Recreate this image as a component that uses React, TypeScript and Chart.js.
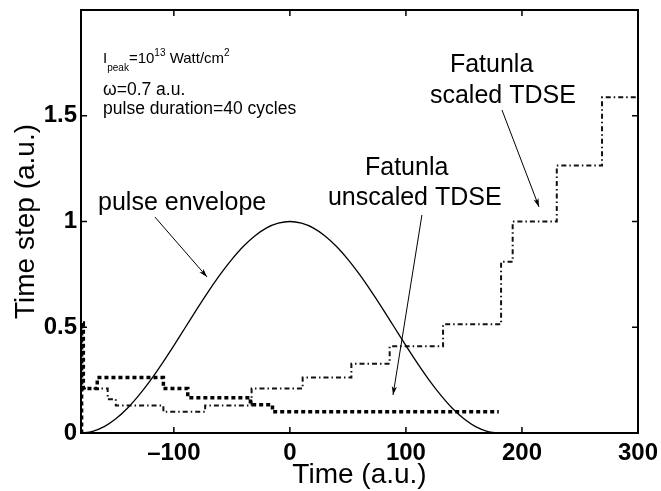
import React, { useEffect, useRef } from 'react';
import { Chart, registerables } from 'chart.js';

Chart.register(...registerables);

const FONT = '"Liberation Sans", Arial, Helvetica, sans-serif';

// Axis ranges and ticks
const xRange = [-180, 300];
const yRange = [0, 2];
const xTicks = [-100, 0, 100, 200, 300];
const yTicks = [0, 0.5, 1, 1.5];

// Pulse envelope
const envelopeT = [-180, -170, -160, -150, -140, -130, -120, -110, -100, -90, -80, -70, -60, -50, -40, -30, -20, -10, 0, 10, 20, 30, 40, 50, 60, 70, 80, 90, 100, 110, 120, 130, 140, 150, 160, 170, 180];
const envelopeV = [0, 0.008, 0.03, 0.067, 0.117, 0.179, 0.25, 0.329, 0.413, 0.5, 0.587, 0.671, 0.75, 0.821, 0.883, 0.933, 0.97, 0.992, 1, 0.992, 0.97, 0.933, 0.883, 0.821, 0.75, 0.671, 0.587, 0.5, 0.413, 0.329, 0.25, 0.179, 0.117, 0.067, 0.03, 0.008, 0];

// Fatunla unscaled TDSE (step function: value holds until next time)
const unscaledT = [-180, -179.5, -178, -166, -109, -88, -34, -15, 180];
const unscaledV = [0, 0.52, 0.21, 0.262, 0.21, 0.167, 0.133, 0.1, 0.1];

// Fatunla scaled TDSE (step function: value holds until next time)
const scaledT = [-180, -157, -150, -109, -73, -33, 11, 53, 86, 132, 182, 192, 230, 269, 300];
const scaledV = [0.21, 0.16, 0.13, 0.1, 0.13, 0.21, 0.262, 0.328, 0.41, 0.514, 0.81, 1.0, 1.265, 1.587, 1.587];

// Annotation texts (data coordinates: left x, baseline y)
const bigLabels = [
  { text: 'pulse envelope', t: -165.3, y: 1.054 },
  { text: 'Fatunla', t: 64.7, y: 1.22 },
  { text: 'unscaled TDSE', t: 32.8, y: 1.078 },
  { text: 'Fatunla', t: 137.9, y: 1.707 },
  { text: 'scaled TDSE', t: 120.7, y: 1.56 },
];
const arrows = [
  { from: [-116.3, 1.021], to: [-71.4, 0.738] },
  { from: [113.8, 1.031], to: [88.9, 0.18] },
  { from: [182.8, 1.527], to: [214.7, 1.069] },
];
const infoLeft = -161;
const infoLine1 = [
  { text: 'I', size: 15, dy: 0 },
  { text: 'peak', size: 10, dy: 8 },
  { text: '=10', size: 15, dy: 0 },
  { text: '13', size: 10, dy: -7 },
  { text: ' Watt/cm', size: 15, dy: 0 },
  { text: '2', size: 10, dy: -7 },
];
const infoLine1Y = 1.749;
const infoLines = [
  { text: 'ω=0.7 a.u.', y: 1.6 },
  { text: 'pulse duration=40 cycles', y: 1.506 },
];

const toPts = (xs: number[], ys: number[]) => xs.map((x, i) => ({ x, y: ys[i] }));

const overlay = {
  id: 'overlay',
  afterDraw(chart: any) {
    const { ctx, chartArea } = chart;
    const { left, right, top, bottom } = chartArea;
    const xs = chart.scales.x;
    const ys = chart.scales.y;
    const px = (v: number) => xs.getPixelForValue(v);
    const py = (v: number) => ys.getPixelForValue(v);
    ctx.save();
    ctx.strokeStyle = '#000';
    ctx.fillStyle = '#000';
    // box
    ctx.lineWidth = 2;
    ctx.strokeRect(left, top, right - left, bottom - top);
    // inward ticks
    ctx.lineWidth = 1.5;
    ctx.beginPath();
    for (const v of xTicks) {
      const x = px(v);
      ctx.moveTo(x, bottom); ctx.lineTo(x, bottom - 6);
      ctx.moveTo(x, top); ctx.lineTo(x, top + 6);
    }
    for (const v of yTicks) {
      const y = py(v);
      ctx.moveTo(left, y); ctx.lineTo(left + 6, y);
      ctx.moveTo(right, y); ctx.lineTo(right - 6, y);
    }
    ctx.stroke();

    // arrows
    ctx.lineWidth = 1;
    for (const a of arrows) {
      const x1 = px(a.from[0]), y1 = py(a.from[1]);
      const x2 = px(a.to[0]), y2 = py(a.to[1]);
      ctx.beginPath();
      ctx.moveTo(x1, y1); ctx.lineTo(x2, y2);
      ctx.stroke();
      const ang = Math.atan2(y2 - y1, x2 - x1);
      const L = 9, w = 0.3;
      ctx.beginPath();
      ctx.moveTo(x2, y2);
      ctx.lineTo(x2 - L * Math.cos(ang - w), y2 - L * Math.sin(ang - w));
      ctx.lineTo(x2 - L * 0.7 * Math.cos(ang), y2 - L * 0.7 * Math.sin(ang));
      ctx.lineTo(x2 - L * Math.cos(ang + w), y2 - L * Math.sin(ang + w));
      ctx.closePath();
      ctx.fill();
    }

    // big labels
    ctx.textAlign = 'left';
    ctx.textBaseline = 'alphabetic';
    ctx.font = `25px ${FONT}`;
    for (const l of bigLabels) {
      ctx.fillText(l.text, px(l.t), py(l.y));
    }

    // info text
    let x = px(infoLeft);
    const base1 = py(infoLine1Y);
    for (const seg of infoLine1) {
      ctx.font = `${seg.size}px ${FONT}`;
      ctx.fillText(seg.text, x, base1 + seg.dy);
      x += ctx.measureText(seg.text).width;
    }
    ctx.font = `17.5px ${FONT}`;
    for (const l of infoLines) {
      ctx.fillText(l.text, px(infoLeft), py(l.y));
    }
    ctx.restore();
  },
};

export default function App() {
  const ref = useRef<HTMLCanvasElement>(null);
  useEffect(() => {
    if (!ref.current) return;
    const chart = new Chart(ref.current, {
      type: 'line',
      data: {
        datasets: [
          {
            label: 'pulse envelope',
            data: toPts(envelopeT, envelopeV),
            borderColor: '#000',
            borderWidth: 1.3,
            pointRadius: 0,
            cubicInterpolationMode: 'monotone',
            fill: false,
          },
          {
            label: 'Fatunla unscaled TDSE',
            data: toPts(unscaledT, unscaledV),
            borderColor: '#000',
            borderWidth: 3.5,
            borderDash: [4, 3],
            borderCapStyle: 'butt',
            stepped: 'before',
            pointRadius: 0,
            fill: false,
          },
          {
            label: 'Fatunla scaled TDSE',
            data: toPts(scaledT, scaledV),
            borderColor: '#111',
            borderWidth: 2,
            borderDash: [5, 3, 1.5, 3],
            borderCapStyle: 'butt',
            stepped: 'before',
            pointRadius: 0,
            fill: false,
          },
        ],
      },
      options: {
        responsive: false,
        animation: false,
        events: [],
        layout: { padding: { top: 10, right: 23, left: 0, bottom: 0 } },
        plugins: { legend: { display: false }, tooltip: { enabled: false } },
        scales: {
          x: {
            type: 'linear',
            min: xRange[0],
            max: xRange[1],
            grid: { display: false, drawTicks: false },
            border: { display: false },
            afterBuildTicks: (s: any) => { s.ticks = xTicks.map((v) => ({ value: v })); },
            afterFit: (s: any) => { s.height = 58; s.paddingLeft = 0; s.paddingRight = 0; },
            ticks: {
              padding: 6,
              color: '#000',
              font: { family: FONT, size: 24, weight: 'bold' },
              callback: (v: any) => (v < 0 ? '\u2013' + Math.abs(v) : String(v)),
            },
            title: {
              display: true,
              text: 'Time (a.u.)',
              color: '#000',
              font: { family: FONT, size: 28, lineHeight: 1.1 },
              padding: { top: 0, bottom: 0 },
            },
          },
          y: {
            type: 'linear',
            min: yRange[0],
            max: yRange[1],
            grid: { display: false, drawTicks: false },
            border: { display: false },
            afterBuildTicks: (s: any) => { s.ticks = yTicks.map((v) => ({ value: v })); },
            afterFit: (s: any) => { s.width = 81; s.paddingTop = 0; s.paddingBottom = 0; },
            ticks: {
              padding: 4,
              color: '#000',
              font: { family: FONT, size: 24, weight: 'bold' },
              callback: (v: any) => String(v),
            },
            title: {
              display: true,
              text: 'Time step (a.u.)',
              color: '#000',
              font: { family: FONT, size: 28, lineHeight: 1.1 },
              padding: { top: 11, bottom: 0 },
            },
          },
        },
      },
      plugins: [overlay],
    } as any);
    return () => chart.destroy();
  }, []);
  return (
    <div style={{ position: 'fixed', left: 0, top: 0, width: 661, height: 491, background: '#fff' }}>
      <canvas ref={ref} width={661} height={491} style={{ display: 'block' }} />
    </div>
  );
}
